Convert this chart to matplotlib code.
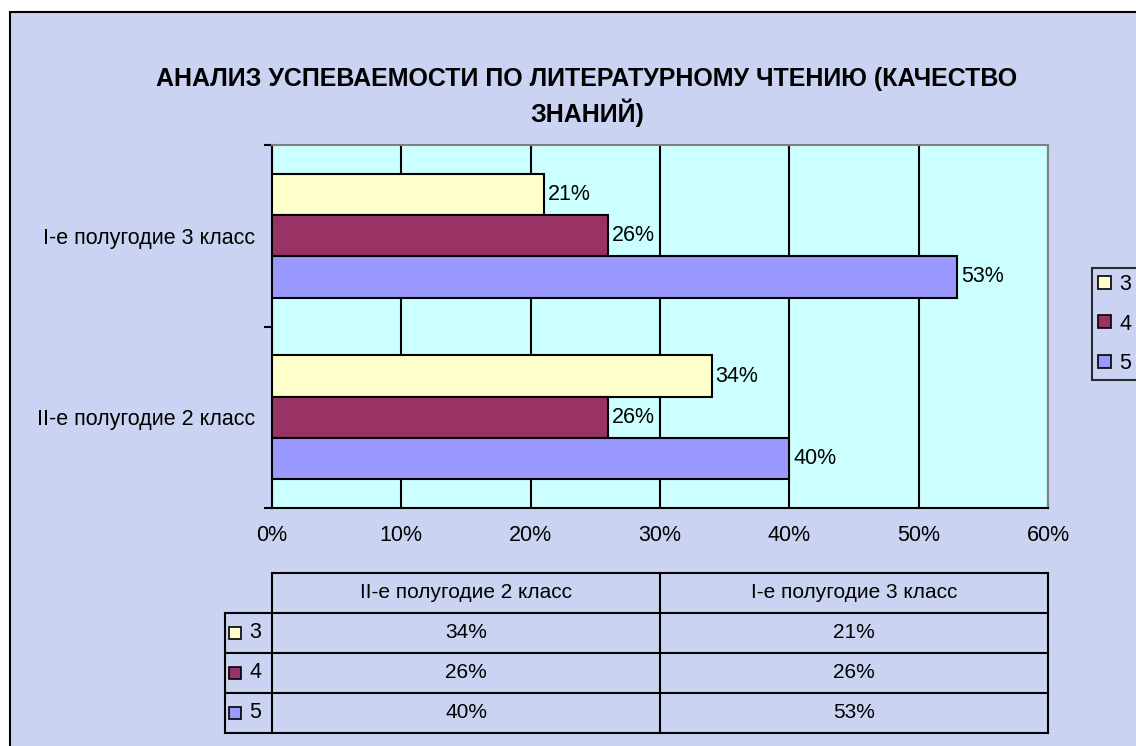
import matplotlib.pyplot as plt
from matplotlib.patches import Rectangle
from matplotlib.lines import Line2D

plt.rcParams['font.family'] = ['Liberation Sans', 'DejaVu Sans']

# data
categories = ['II-е полугодие 2 класс', 'I-е полугодие 3 класс']
series = ['3', '4', '5']
values = {
    '3': [0.34, 0.21],
    '4': [0.26, 0.26],
    '5': [0.40, 0.53],
}
colors = {'3': '#FFFFCC', '4': '#993366', '5': '#9999FF'}
title_lines = ['АНАЛИЗ УСПЕВАЕМОСТИ ПО ЛИТЕРАТУРНОМУ ЧТЕНИЮ (КАЧЕСТВО', 'ЗНАНИЙ)']
xticks = [0, 0.1, 0.2, 0.3, 0.4, 0.5, 0.6]

W, H = 1136, 746
bg = '#CAD3F1'
fs = 15.5
fig = plt.figure(figsize=(W / 100, H / 100), dpi=100)
fig.patch.set_facecolor('white')


def fx(px):
    return px / W


def fy(py):
    return 1 - py / H


# outer chart frame
fig.add_artist(Rectangle((fx(10), -0.01), 1 - fx(10) + 0.01, fy(12) + 0.01, transform=fig.transFigure,
                         facecolor=bg, edgecolor='black', lw=1.5, zorder=0))

fig.text(fx(587), fy(79), title_lines[0], ha='center', va='center', fontsize=18, fontweight='bold')
fig.text(fx(587), fy(113), title_lines[1], ha='center', va='center', fontsize=18, fontweight='bold')

# plot area
L, R, T, B = 272, 1048, 145, 508
ax = fig.add_axes([fx(L), fy(B), fx(R - L), (B - T) / H])
ax.set_facecolor('#CCFFFF')
ax.set_xlim(0, 0.6)
ax.set_ylim(-0.5, 1.5)

h = 0.227
offsets = {'3': h, '4': 0, '5': -h}
for s in series:
    ys = [i + offsets[s] for i in range(len(categories))]
    ax.barh(ys, values[s], height=h, color=colors[s], edgecolor='black', lw=1.5, zorder=3)
    for y, v in zip(ys, values[s]):
        ax.text(v + 0.003, y, f'{round(v * 100)}%', va='center', ha='left', fontsize=fs, zorder=4)

ax.set_xticks(xticks)
ax.set_xticklabels([f'{int(round(t * 100))}%' for t in xticks], fontsize=fs)
ax.tick_params(axis='x', length=0, pad=12)
ax.grid(axis='x', color='black', lw=1.5, zorder=1)
ax.set_yticks(range(len(categories)))
ax.set_yticklabels(categories, fontsize=fs)
ax.tick_params(axis='y', which='major', length=0, pad=12)
ax.set_yticks([-0.5, 0.5, 1.5], minor=True)
ax.tick_params(axis='y', which='minor', length=6, width=1.5, direction='out')
for side in ['left', 'bottom']:
    ax.spines[side].set_linewidth(1.5)
for side in ['top', 'right']:
    ax.spines[side].set_color('#808080')
    ax.spines[side].set_linewidth(1.5)

# legend
handles = [Rectangle((0, 0), 1, 1, facecolor=colors[s], edgecolor='black', lw=1.2) for s in series]
leg = fig.legend(handles, series, loc='center left', bbox_to_anchor=(fx(1092), fy(324)),
                 frameon=True, fancybox=False, fontsize=fs, handlelength=0.56, handleheight=0.56,
                 handletextpad=0.4, labelspacing=0.85, borderpad=0.3, borderaxespad=0)
leg.get_frame().set_facecolor(bg)
leg.get_frame().set_edgecolor('black')
leg.get_frame().set_linewidth(1.5)

# data table
col_x = [225, 272, 660, 1048]
row_y = [573, 613, 653, 693, 733]


def line(x0, y0, x1, y1):
    fig.add_artist(Line2D([fx(x0), fx(x1)], [fy(y0), fy(y1)], color='black', lw=1.5,
                          transform=fig.transFigure))


line(col_x[1], row_y[0], col_x[3], row_y[0])
for y in row_y[1:]:
    line(col_x[0], y, col_x[3], y)
line(col_x[0], row_y[1], col_x[0], row_y[-1])
for x in col_x[1:]:
    line(x, row_y[0], x, row_y[-1])

for j, c in enumerate(categories):
    fig.text(fx((col_x[j + 1] + col_x[j + 2]) / 2), fy((row_y[0] + row_y[1]) / 2), c,
             ha='center', va='center', fontsize=fs - 0.5)
for i, s in enumerate(series):
    yc = (row_y[i + 1] + row_y[i + 2]) / 2
    fig.add_artist(Rectangle((fx(229), fy(yc + 6)), fx(12), 12 / H, transform=fig.transFigure,
                             facecolor=colors[s], edgecolor='black', lw=1.2))
    fig.text(fx(249), fy(yc), s, ha='left', va='center', fontsize=fs)
    for j in range(len(categories)):
        fig.text(fx((col_x[j + 1] + col_x[j + 2]) / 2), fy(yc), f'{round(values[s][j] * 100)}%',
                 ha='center', va='center', fontsize=fs - 0.5)

fig.savefig('out.png', dpi=100, facecolor=fig.get_facecolor())
